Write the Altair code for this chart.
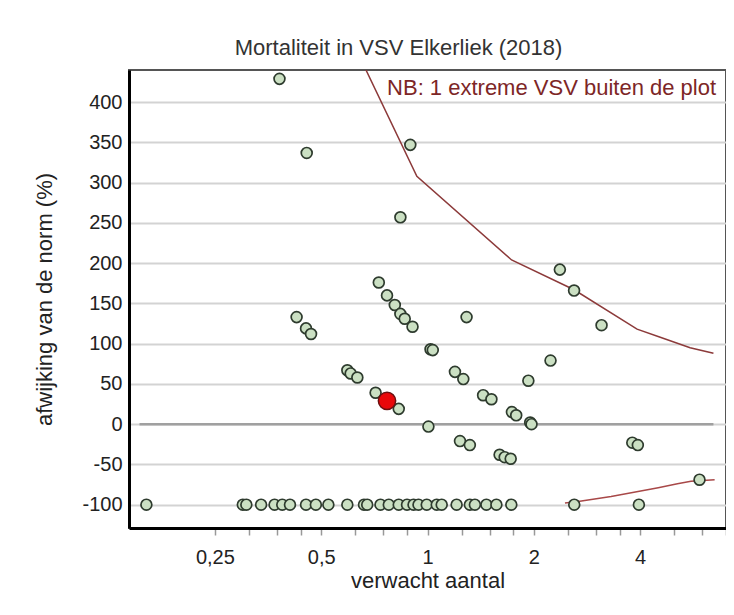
import altair as alt
import pandas as pd

# ---- data ----
verwacht = [0.381, 0.455, 0.894, 0.838, 0.728, 0.768, 0.808, 0.838, 0.862, 0.907,
            0.426, 0.453, 0.468, 1.020, 1.035, 2.37, 2.60, 1.29, 3.11, 2.23,
            0.593, 0.606, 0.633, 0.713, 0.829, 1.006, 1.196, 1.263, 1.93, 1.437,
            1.517, 1.734, 1.783, 1.953, 1.97, 1.236, 1.318, 1.60, 1.654, 1.72,
            3.80, 3.94, 5.89]
afwijking = [429, 337, 347, 257, 176, 160, 148, 137, 131, 121,
             133, 119, 112, 93, 92, 192, 166, 133, 123, 79,
             67, 63, 58, 39, 19, -3, 65, 56, 54, 36,
             31, 15, 11, 2, 0, -21, -26, -38, -41, -43,
             -23, -26, -69]
verwacht_nul = [0.160, 0.300, 0.307, 0.338, 0.369, 0.388, 0.408, 0.453, 0.483, 0.524,
                0.593, 0.661, 0.675, 0.736, 0.777, 0.829, 0.875, 0.913, 0.943, 0.995,
                1.062, 1.097, 1.209, 1.318, 1.362, 1.468, 1.567, 1.727, 2.603, 3.967]
afwijking_nul = [-100] * len(verwacht_nul)

eigen_verwacht = [0.768]
eigen_afwijking = [29]

boven_x = [0.60, 0.668, 0.933, 1.73, 2.60, 3.92, 4.56, 5.54, 6.45]
boven_y = [485, 441, 308, 204, 167, 118, 108, 95, 88]
onder_x = [2.45, 2.67, 3.31, 4.50, 5.10, 5.57, 6.5]
onder_y = [-98, -96, -90, -79, -74, -71, -69]

nul_x = [0.153]
nul_x2 = [6.45]
nul_y = [0]

nb_tekst = ["NB: 1 extreme VSV buiten de plot"]
nb_x = [6.56]
nb_y = [409]

y_ticks = list(range(-100, 401, 50))
x_ticks = [0.25, 0.3125, 0.375, 0.4375, 0.5, 0.625, 0.75, 0.875, 1, 1.25, 1.5, 1.75,
           2, 2.5, 3, 3.5, 4, 5, 6, 7]
x_labels = [0.25, 0.5, 1, 2, 4]

FONT = "Liberation Sans"
XT = "verwacht aantal"
YT = "afwijking van de norm (%)"

xs = alt.Scale(type="log", base=2, domain=[1 / 7, 7], nice=False)
ys = alt.Scale(domain=[-129, 440], nice=False, zero=False)

label_expr = ("indexof([" + ",".join(str(v) for v in x_labels) + "], datum.value) >= 0 ? "
              "replace(toString(datum.value), '.', ',') : ''")

x_axis = alt.Axis(values=x_ticks, labelExpr=label_expr, grid=False, title=XT,
                  domainColor="black", domainWidth=3, tickColor="#999999", tickWidth=1.5,
                  tickSize=7, labelPadding=12, labelFontSize=20, titleFontSize=22,
                  titlePadding=3, labelFlush=False, labelOverlap=False)
y_axis = alt.Axis(values=y_ticks, labelExpr="toString(datum.value)", grid=True,
                  gridColor="#d3d3d3", gridWidth=2, title=YT,
                  domainColor="black", domainWidth=3, ticks=False, labelPadding=7,
                  labelFontSize=20, titleFontSize=22, titlePadding=25, labelFlush=False,
                  labelOverlap=False)


def X(f="x"):
    return alt.X(f + ":Q", scale=xs, axis=x_axis)


def Y(f="y"):
    return alt.Y(f + ":Q", scale=ys, axis=y_axis)


df_pts = pd.DataFrame({"x": verwacht + verwacht_nul, "y": afwijking + afwijking_nul})
df_eigen = pd.DataFrame({"x": eigen_verwacht, "y": eigen_afwijking})
df_boven = pd.DataFrame({"x": boven_x, "y": boven_y})
df_onder = pd.DataFrame({"x": onder_x, "y": onder_y})
df_nul = pd.DataFrame({"x": nul_x, "x2": nul_x2, "y": nul_y})
df_nb = pd.DataFrame({"x": nb_x, "y": nb_y, "t": nb_tekst})

nul = alt.Chart(df_nul).mark_rule(color="#a0a0a0", strokeWidth=2.5).encode(
    x=X(), x2="x2:Q", y=Y())
boven = alt.Chart(df_boven).mark_line(color="#8c3a3a", strokeWidth=1.5, clip=True).encode(
    x=X(), y=Y(), order=alt.Order("x:Q"))
onder = alt.Chart(df_onder).mark_line(color="#a84848", strokeWidth=1.5, clip=True).encode(
    x=X(), y=Y(), order=alt.Order("x:Q"))
pts = alt.Chart(df_pts).mark_circle(size=118, fill="#cbe0c3", stroke="#2e3b2e",
                                    strokeWidth=1.7, opacity=1).encode(x=X(), y=Y())
eigen = alt.Chart(df_eigen).mark_circle(size=300, fill="#e8080a", stroke="#6a1010",
                                        strokeWidth=1.5, opacity=1).encode(x=X(), y=Y())
nb = alt.Chart(df_nb).mark_text(align="right", baseline="alphabetic", fontSize=22,
                                font=FONT, color="#7d2626").encode(
    x=X(), y=Y(), text="t:N")

chart = (
    alt.layer(nul, boven, onder, pts, eigen, nb)
    .properties(
        width=597,
        height=458,
        padding={"left": 121, "top": 62, "right": 0, "bottom": 75},
        autosize=alt.AutoSizeParams(type="none"),
        title=alt.TitleParams("Mortaliteit in VSV Elkerliek (2018)", fontSize=22, font=FONT,
                              fontWeight="normal", color="#333333", anchor="middle",
                              dx=-29, offset=10),
    )
    .configure_view(stroke="#555555", strokeWidth=2)
    .configure_axis(labelFont=FONT, titleFont=FONT, labelColor="#222222",
                    titleColor="#222222", titleFontWeight="normal")
)

chart.save("out.html", embed_options={"renderer": "svg", "actions": False})
